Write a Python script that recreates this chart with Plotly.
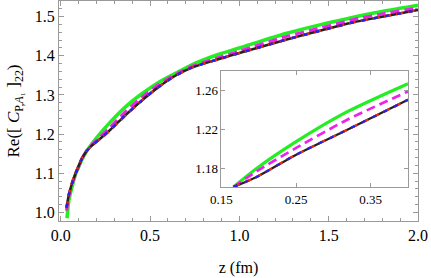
import plotly.graph_objects as go

# ---- main panel data ----
z_green = [0.035, 0.045, 0.063, 0.08, 0.10, 0.13, 0.175, 0.268, 0.361, 0.454, 0.547, 0.641, 0.734, 0.873, 1.0, 1.26, 1.45, 1.633, 1.8, 2.0]
green = [0.985, 1.030, 1.065, 1.094, 1.116, 1.145, 1.176, 1.226, 1.269, 1.303, 1.332, 1.355, 1.377, 1.402, 1.420, 1.457, 1.479, 1.498, 1.513, 1.529]

z_b = [0.032, 0.045, 0.06, 0.073, 0.095, 0.119, 0.145, 0.175, 0.22, 0.268, 0.361, 0.454, 0.547, 0.641, 0.734, 0.873, 1.0, 1.26, 1.45, 1.633, 1.8, 2.0]
magenta = [1.004, 1.040, 1.066, 1.085, 1.111, 1.137, 1.158, 1.173, 1.193, 1.214, 1.257, 1.294, 1.326, 1.352, 1.373, 1.394, 1.412, 1.449, 1.471, 1.492, 1.507, 1.522]
black = [1.012, 1.045, 1.070, 1.088, 1.113, 1.138, 1.157, 1.171, 1.188, 1.207, 1.248, 1.286, 1.320, 1.349, 1.370, 1.390, 1.407, 1.441, 1.464, 1.485, 1.500, 1.517]
red = [1.010, 1.046, 1.072, 1.090, 1.115, 1.140, 1.158, 1.171, 1.188, 1.206, 1.247, 1.286, 1.321, 1.349, 1.370, 1.390, 1.407, 1.441, 1.464, 1.485, 1.500, 1.517]
blue = [1.012, 1.045, 1.070, 1.088, 1.113, 1.138, 1.157, 1.171, 1.188, 1.207, 1.248, 1.286, 1.320, 1.349, 1.370, 1.390, 1.407, 1.441, 1.464, 1.485, 1.500, 1.517]

# ---- inset data ----
zi = [0.166, 0.197, 0.249, 0.318, 0.40]
green_i = [1.161, 1.180, 1.207, 1.238, 1.267]
magenta_i = [1.161, 1.177, 1.2006, 1.2298, 1.259]
black_i = [1.161, 1.1713, 1.1937, 1.2195, 1.2504]
red_i = [1.161, 1.1713, 1.1937, 1.2195, 1.2504]
blue_i = [1.161, 1.1713, 1.1937, 1.2195, 1.2504]

xticks_main = [0.0, 0.5, 1.0, 1.5, 2.0]
yticks_main = [1.0, 1.1, 1.2, 1.3, 1.4, 1.5]
xticks_inset = [0.15, 0.25, 0.35]
yticks_inset = [1.18, 1.22, 1.26]

FONT = "Liberation Serif, Times New Roman, serif"
GRAY = "#9a9a9a"

fig = go.Figure()

def add_set(xs, g, m, k, r, b, xg, xa, ya, scale=1.0):
    sm = 0.7
    fig.add_trace(go.Scatter(x=xg, y=g, mode="lines", line=dict(color="#22ee22", width=3.5*scale, shape="spline", smoothing=sm), xaxis=xa, yaxis=ya))
    fig.add_trace(go.Scatter(x=xs, y=m, mode="lines", line=dict(color="#ee22ee", width=3*scale, dash="9px,5px", shape="spline", smoothing=sm), xaxis=xa, yaxis=ya))
    fig.add_trace(go.Scatter(x=xs, y=k, mode="lines", line=dict(color="#222222", width=2.5*scale, shape="spline", smoothing=sm), xaxis=xa, yaxis=ya))
    fig.add_trace(go.Scatter(x=xs, y=r, mode="lines", line=dict(color="#ee2a10", width=2.5*scale, dash="7px,5px", shape="spline", smoothing=sm), xaxis=xa, yaxis=ya))
    fig.add_trace(go.Scatter(x=xs, y=b, mode="lines", line=dict(color="#2222ee", width=2.5*scale, dash="4px,8px", shape="spline", smoothing=sm), xaxis=xa, yaxis=ya))

add_set(z_b, green, magenta, black, red, blue, z_green, "x", "y")
add_set(zi, green_i, magenta_i, black_i, red_i, blue_i, zi, "x2", "y2", 0.9)

axis_common = dict(showline=True, linecolor=GRAY, linewidth=1, mirror="allticks",
                   ticks="inside", tickcolor=GRAY, showgrid=False, zeroline=False,
                   automargin=False,
                   tickfont=dict(family=FONT, size=16, color="black"))

fig.update_layout(
    width=431, height=278,
    margin=dict(l=59, r=13, t=1, b=57, autoexpand=False),
    paper_bgcolor="white", plot_bgcolor="white",
    showlegend=False,
    font=dict(family=FONT, color="black"),
    xaxis=dict(axis_common, range=[-0.01, 2.0], tickvals=xticks_main, tickformat=".1f",
               ticklen=5, minor=dict(ticks="inside", dtick=0.1, tick0=0, ticklen=3, tickcolor=GRAY),
               title=dict(text="z (fm)", font=dict(family=FONT, size=16), standoff=18),
               domain=[0, 1]),
    yaxis=dict(axis_common, range=[0.978, 1.540], tickvals=yticks_main, tickformat=".1f",
               ticklen=5, minor=dict(ticks="inside", dtick=0.02, tick0=1.0, ticklen=3, tickcolor=GRAY),
               title=dict(text="Re([ <i>C</i><sub>P,<i>A</i>₁</sub> ]<sub>22</sub>)", font=dict(family=FONT, size=17), standoff=10),
               domain=[0, 1]),
    xaxis2=dict(axis_common, range=[0.15, 0.40], tickvals=xticks_inset, tickformat=".2f",
                ticklen=4, tickfont=dict(family=FONT, size=13, color="black"),
                domain=[0.4526, 0.9721], anchor="y2"),
    yaxis2=dict(axis_common, range=[1.161, 1.280], tickvals=yticks_inset, tickformat=".2f",
                ticklen=4, tickfont=dict(family=FONT, size=13, color="black"),
                domain=[0.1545, 0.6818], anchor="x2"),
)

fig.write_html("out.html", config={"displayModeBar": False},
               post_script="document.body.style.margin='0';document.body.style.overflow='hidden';")
